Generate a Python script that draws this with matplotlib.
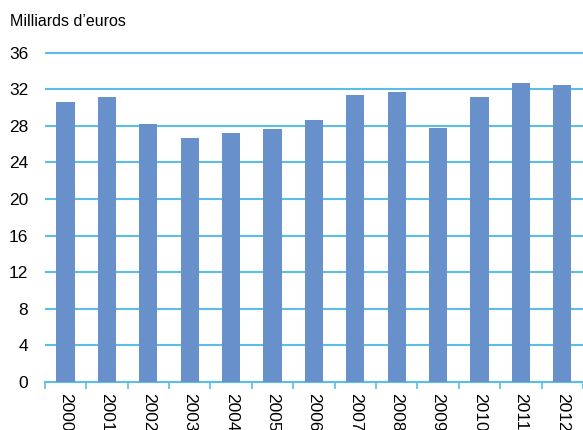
import matplotlib.pyplot as plt
import numpy as np

years = ["2000", "2001", "2002", "2003", "2004", "2005", "2006",
         "2007", "2008", "2009", "2010", "2011", "2012"]
values = [30.6, 31.1, 28.2, 26.7, 27.2, 27.6, 28.6,
          31.4, 31.7, 27.8, 31.2, 32.7, 32.5]
yticks = [0, 4, 8, 12, 16, 20, 24, 28, 32, 36]

plt.rcParams['font.family'] = ['Liberation Sans Narrow', 'Liberation Sans', 'DejaVu Sans']

barColor = '#6890cb'
lineColor = '#5bbde8'

fig = plt.figure(figsize=(5.83, 4.30), dpi=100)
ax = fig.add_axes([0.077, 0.112, 0.923, 0.772])

x = np.arange(len(years))
ax.bar(x, values, width=0.44, color=barColor, zorder=3)

ax.set_xlim(-0.5, len(years) - 0.5)
ax.set_ylim(0, 36.3)
ax.set_yticks(yticks)
ax.set_yticklabels([str(v) for v in yticks], fontsize=12.5)
ax.yaxis.grid(True, color=lineColor, linewidth=1.5, zorder=0)
ax.tick_params(axis='y', length=0, pad=12)

ax.set_xticks(x)
ax.set_xticklabels(years, rotation=-90, fontsize=12.5, va='top', ha='center')
ax.set_xticks(np.arange(-0.5, len(years), 1), minor=True)
ax.tick_params(axis='x', which='major', length=0, pad=8)
ax.tick_params(axis='x', which='minor', length=5, color=lineColor, width=1.2)

for side in ['left', 'right', 'top']:
    ax.spines[side].set_visible(False)
ax.spines['bottom'].set_color(lineColor)
ax.spines['bottom'].set_linewidth(1.5)

fig.text(0.017, 0.95, "Milliards d\u2019euros", fontsize=11.5, ha='left', va='center')

fig.savefig('out.png', dpi=100)
